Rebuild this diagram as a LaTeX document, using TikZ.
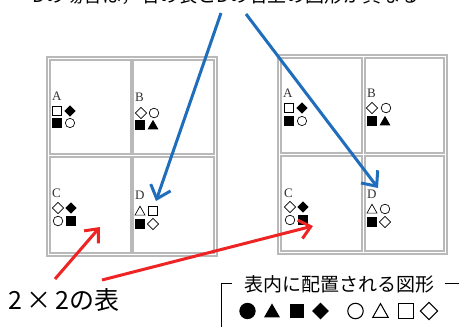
\documentclass[tikz,border=0pt]{standalone}
\usepackage{fontspec}
\setmainfont{Liberation Serif}
\newfontfamily\jpfont{Noto Sans CJK JP}
\usetikzlibrary{arrows.meta}
\definecolor{arrblue}{RGB}{30,110,188}
\definecolor{arrred}{RGB}{238,36,36}
\definecolor{tblgray}{RGB}{185,185,185}
\tikzset{
  x=1pt, y=-1pt,
  tblouter/.style={draw=tblgray, line width=1.3pt},
  tblcell/.style={draw=tblgray, line width=1.1pt},
  celllabel/.style={font=\fontsize{13}{13}\selectfont, anchor=base west, inner sep=0pt, text=black!80},
  bluearrow/.style={draw=arrblue, line width=3pt, -{Straight Barb[length=12pt,width=21pt,line width=3pt]}},
  redarrow/.style={draw=arrred, line width=3pt, -{Straight Barb[length=11pt,width=19pt,line width=3pt]}},
  jptext/.style={font=\jpfont\fontsize{19}{19}\selectfont, inner sep=0pt},
  pics/fcirc/.style={code={\fill (0pt,0pt) circle (0.95*#1);}},
  pics/ocirc/.style={code={\draw[line width=0.12*#1] (0pt,0pt) circle (0.86*#1);}},
  pics/ftri/.style={code={\fill (-1.0*#1,-0.8*#1) -- (1.0*#1,-0.8*#1) -- (0pt,0.95*#1) -- cycle;}},
  pics/otri/.style={code={\draw[line width=0.12*#1, line join=miter] (-0.9*#1,-0.74*#1) -- (0.9*#1,-0.74*#1) -- (0pt,0.86*#1) -- cycle;}},
  pics/fsq/.style={code={\fill (-0.88*#1,-0.88*#1) rectangle (0.88*#1,0.88*#1);}},
  pics/osq/.style={code={\draw[line width=0.12*#1] (-0.82*#1,-0.82*#1) rectangle (0.82*#1,0.82*#1);}},
  pics/fdia/.style={code={\fill (-1.05*#1,0pt) -- (0pt,1.05*#1) -- (1.05*#1,0pt) -- (0pt,-1.05*#1) -- cycle;}},
  pics/odia/.style={code={\draw[line width=0.12*#1] (-1.0*#1,0pt) -- (0pt,1.0*#1) -- (1.0*#1,0pt) -- (0pt,-1.0*#1) -- cycle;}},
}
\begin{document}
\begin{tikzpicture}
\useasboundingbox[fill=white] (0,0) rectangle (459,327);

% top caption (cut off by the picture's top edge)
\node[jptext, anchor=base] (caption) at (226,2) {Dの場合は，右の表とDの右上の図形が異なる};

% ---------- left table ----------
\draw[tblouter] (47,57) rectangle (217,256);
\draw[tblcell] (50,60) rectangle (131,154);
\draw[tblcell] (133,60) rectangle (214,154);
\draw[tblcell] (50,157) rectangle (131,253);
\draw[tblcell] (133,157) rectangle (214,253);

\node[celllabel] (lA) at (52,100) {A};
\pic at (57,111) {osq=5.2pt};  \pic at (70,111) {fdia=5.4pt};
\pic at (57,123) {fsq=5.2pt};  \pic at (70,123) {ocirc=5.4pt};

\node[celllabel] (lB) at (135,101) {B};
\pic at (141,113) {odia=5.6pt}; \pic at (154,113) {ocirc=5.6pt};
\pic at (140,125) {fsq=5.2pt};  \pic at (153,125) {ftri=5.4pt};

\node[celllabel] (lC) at (52,197) {C};
\pic at (58,208) {odia=5.6pt}; \pic at (71,208) {fdia=5.4pt};
\pic at (58,221) {ocirc=5.6pt}; \pic at (71,221) {fsq=5.2pt};

\node[celllabel] (lD) at (135,199) {D};
\pic at (140,211) {otri=5.6pt}; \pic at (153,211) {osq=5.2pt};
\pic at (140,224) {fsq=5.2pt};  \pic at (153,224) {odia=5.6pt};

% ---------- right table ----------
\draw[tblouter] (278,55) rectangle (447,254);
\draw[tblcell] (281,58) rectangle (362,153);
\draw[tblcell] (365,58) rectangle (444,153);
\draw[tblcell] (281,156) rectangle (362,251);
\draw[tblcell] (365,156) rectangle (444,251);

\node[celllabel] (rA) at (283,97) {A};
\pic at (289,108) {osq=5.2pt};  \pic at (302,108) {fdia=5.4pt};
\pic at (289,121) {fsq=5.2pt};  \pic at (302,121) {ocirc=5.4pt};

\node[celllabel] (rB) at (367,97) {B};
\pic at (372,108) {odia=5.6pt}; \pic at (386,108) {ocirc=5.6pt};
\pic at (372,121) {fsq=5.2pt};  \pic at (385,121) {ftri=5.4pt};

\node[celllabel] (rC) at (284,197) {C};
\pic at (290,207) {odia=5.6pt}; \pic at (303,207) {fdia=5.4pt};
\pic at (290,220) {ocirc=5.6pt}; \pic at (303,220) {fsq=5.2pt};

\node[celllabel] (rD) at (367,198) {D};
\pic at (372,209) {otri=5.6pt}; \pic at (385,209) {ocirc=5.6pt};
\pic at (372,222) {fsq=5.2pt};  \pic at (385,222) {odia=5.6pt};

% ---------- label 2x2 ----------
\node[font=\jpfont\fontsize{25}{25}\selectfont, anchor=west, inner sep=0pt] (twobytwo) at (8,300) {2\,×\,2の表};

% ---------- legend ----------
\node[jptext, anchor=west] (legendtitle) at (244,284) {表内に配置される図形};
\coordinate (lgA) at (221,330);
\coordinate (lgB) at (221,283);
\coordinate (lgC) at (232,283);
\coordinate (lgD) at (445,283);
\coordinate (lgE) at (460,283);
\draw[line width=0.8pt] (lgA) -- (lgB) -- (lgC);
\draw[line width=0.8pt] (lgD) -- (lgE);
\pic at (247.5,311) {fcirc=8.6pt};
\pic at (272,311) {ftri=8pt};
\pic at (297,311) {fsq=8.2pt};
\pic at (320.5,311) {fdia=8pt};
\pic at (355.5,311) {ocirc=9pt};
\pic at (380.5,311) {otri=8.6pt};
\pic at (406,311) {osq=9pt};
\pic at (429,311) {odia=8.6pt};

% ---------- arrows ----------
\coordinate (b1s) at (221,13);
\coordinate (b1e) at (156,201);
\coordinate (b2s) at (246,14);
\coordinate (b2e) at (378,188);
\draw[bluearrow] (b1s) -- (b1e);
\draw[bluearrow] (b2s) -- (b2e);

\coordinate (r1s) at (55,279);
\coordinate (r1e) at (100,227);
\coordinate (r2s) at (102,280);
\coordinate (r2e) at (313,226);
\draw[redarrow] (r1s) -- (r1e);
\draw[redarrow] (r2s) -- (r2e);
\end{tikzpicture}
\end{document}
